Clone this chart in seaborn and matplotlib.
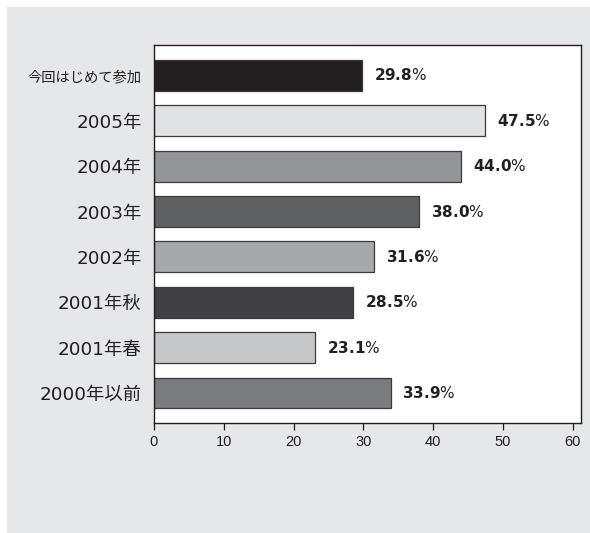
import matplotlib
matplotlib.use("Agg")
import matplotlib.pyplot as plt
import seaborn as sns
import pandas as pd
from matplotlib.patches import Rectangle

# Participation history categories (top to bottom) and their shares in percent
categories = ["今回はじめて参加", "2005年", "2004年", "2003年", "2002年",
              "2001年秋", "2001年春", "2000年以前"]
shares = [29.8, 47.5, 44.0, 38.0, 31.6, 28.5, 23.1, 33.9]
bar_colors = ["#231f20", "#e1e2e3", "#939598", "#5f6062",
              "#a6a8ab", "#414143", "#c6c7c9", "#7b7c7f"]
x_ticks = [0, 10, 20, 30, 40, 50, 60]

sns.set_style("white")
plt.rcParams["font.family"] = ["DejaVu Sans", "Noto Sans CJK JP"]

df = pd.DataFrame({"category": categories, "share": shares})

fig = plt.figure(figsize=(5.90, 5.33), dpi=100, facecolor="white")
# light grey panel behind the chart
fig.patches.append(Rectangle((7 / 590, 0), 1, 1 - 7 / 533,
                             transform=fig.transFigure, facecolor="#e6e7e8",
                             edgecolor="none", zorder=-10))

ax = fig.add_axes([154 / 590, 1 - 423 / 533, (581 - 154) / 590, (423 - 45) / 533])
ax.set_facecolor("white")

sns.barplot(data=df, x="share", y="category", hue="category",
            palette=bar_colors, legend=False, orient="h", width=0.68,
            edgecolor="#3a3a3a", linewidth=0.9, ax=ax, saturation=1)

ax.set_xlim(0, 61.2)
ax.set_ylim(7.66, -0.67)
ax.set_xticks(x_ticks)
ax.set_xticklabels([str(t) for t in x_ticks], family="Liberation Sans",
                   fontsize=10.5, color="#231f20")
ax.tick_params(axis="x", direction="out", length=5, width=0.9, pad=4,
               color="#231f20", bottom=True)
ax.tick_params(axis="y", length=0, pad=9)
ax.set_xlabel("")
ax.set_ylabel("")

for i, lbl in enumerate(ax.get_yticklabels()):
    lbl.set_color("#231f20")
    if i == 0:
        lbl.set_family(["Noto Sans CJK JP"])
        lbl.set_fontsize(10.3)
    else:
        lbl.set_family(["DejaVu Sans", "Noto Sans CJK JP"])
        lbl.set_fontsize(13.2)

for spine in ax.spines.values():
    spine.set_visible(True)
    spine.set_color("#231f20")
    spine.set_linewidth(1.0)

# value labels: bold number followed by a regular percent sign
for i, v in enumerate(shares):
    ax.annotate(f"$\\mathbf{{{v:.1f}}}$%", xy=(v, i), xytext=(8.5, 0),
                textcoords="offset points", va="center", ha="left",
                fontsize=11, color="#231f20", family="DejaVu Sans")

fig.savefig("out.png", dpi=100, facecolor="white")
